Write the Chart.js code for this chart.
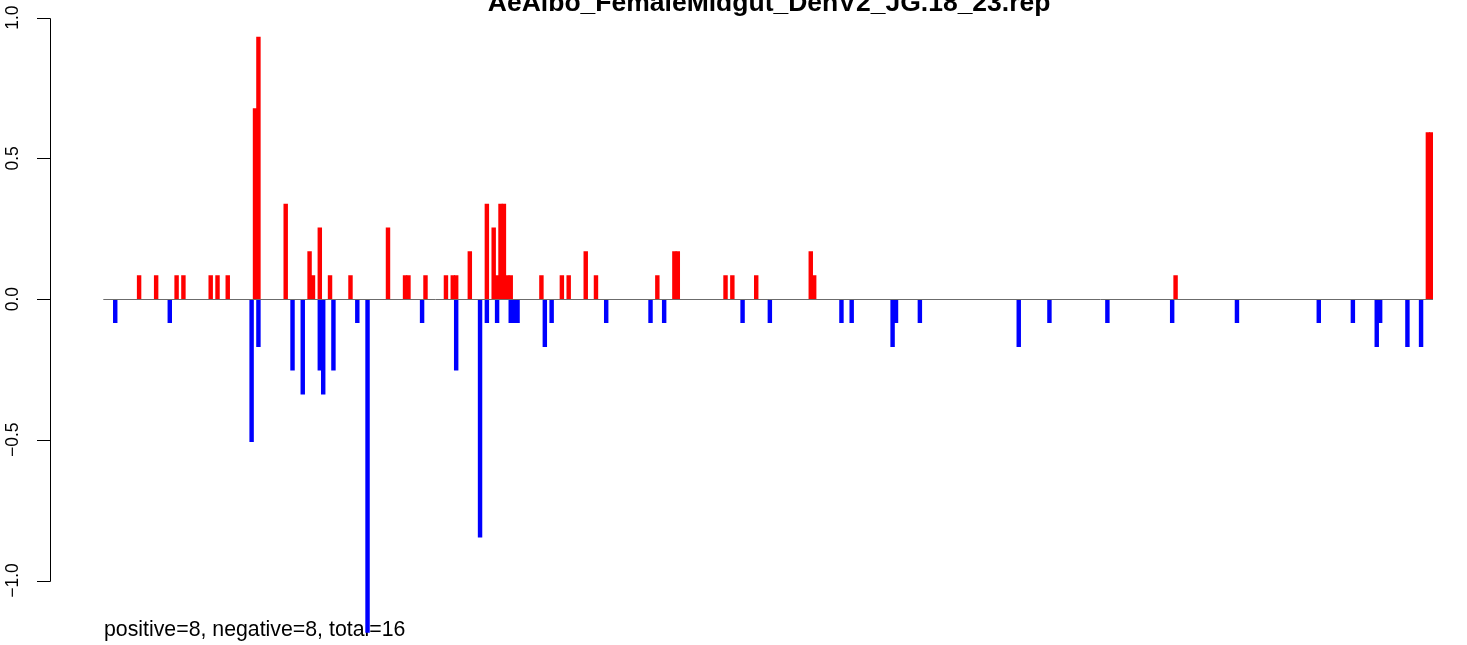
<!DOCTYPE html>
<html>
<head>
<meta charset="utf-8">
<title>AeAlbo_FemaleMidgut_DenV2_JG.18_23.rep</title>
<script src="https://cdn.jsdelivr.net/npm/chart.js@4/dist/chart.umd.min.js"></script>
<style>
	html, body { margin: 0; padding: 0; background: #ffffff; }
	#repChart { display: block; }
</style>
</head>
<body>
<canvas id="repChart" width="1467" height="645"></canvas>
<script>
// number of positions along the x axis
const nSlots = 390;

// positive (red) bars: position and value
const posSlots  = [10, 15, 21, 23, 31, 33, 36, 44, 45, 53, 60, 61, 63, 66, 72, 83, 88, 89, 94, 100,
	102, 103, 107, 112, 114, 115, 116, 117, 118, 119, 128, 134, 136, 141, 144, 162, 167, 168, 182, 184,
	191, 207, 208, 314, 388, 389];
const posValues = [0.085, 0.085, 0.085, 0.085, 0.085, 0.085, 0.085, 0.678, 0.932, 0.339, 0.17, 0.085, 0.254, 0.085, 0.085, 0.254, 0.085, 0.085, 0.085, 0.085,
	0.085, 0.085, 0.17, 0.339, 0.254, 0.085, 0.339, 0.339, 0.085, 0.085, 0.085, 0.085, 0.085, 0.17, 0.085, 0.085, 0.17, 0.17, 0.085, 0.085,
	0.085, 0.17, 0.085, 0.085, 0.593, 0.593];

// negative (blue) bars: position and value
const negSlots  = [3, 19, 43, 45, 55, 58, 63, 64, 67, 74, 77, 93, 103, 110, 112, 115, 119, 120, 121, 129,
	131, 147, 160, 164, 187, 195, 216, 219, 231, 232, 239, 268, 277, 294, 313, 332, 356, 366, 373, 374,
	382, 386];
const negValues = [-0.085, -0.085, -0.508, -0.17, -0.254, -0.339, -0.254, -0.339, -0.254, -0.085, -1.186, -0.085, -0.254, -0.847, -0.085, -0.085, -0.085, -0.085, -0.085, -0.17,
	-0.085, -0.085, -0.085, -0.085, -0.085, -0.085, -0.085, -0.085, -0.17, -0.085, -0.085, -0.17, -0.085, -0.085, -0.085, -0.085, -0.085, -0.085, -0.17, -0.085,
	-0.17, -0.17];

// y axis ticks
const yTicks = [-1, -0.5, 0, 0.5, 1];
const yTickLabels = ['\u22121.0', '\u22120.5', '0.0', '0.5', '1.0'];

const chartTitle = 'AeAlbo_FemaleMidgut_DenV2_JG.18_23.rep';
const footText = 'positive=8, negative=8, total=16';

const fontFamily = '"Liberation Sans", Arial, Helvetica, sans-serif';

// spread the sparse lists onto every position
function fillSlots(slots, values) {
	let data = new Array(nSlots).fill(null);
	for (let i = 0; i < slots.length; i++) {
		data[slots[i]] = values[i];
	}
	return data;
}

// R style axis, zero line and texts
const rStyle = {
	id: 'rStyle',
	beforeDatasetsDraw(chart) {
		const c = chart.ctx;
		c.save();
		c.fillStyle = '#000000';
		c.font = '21.3px ' + fontFamily;
		c.textAlign = 'left';
		c.textBaseline = 'alphabetic';
		c.fillText(footText, 104, 636);
		c.restore();
	},
	afterDatasetsDraw(chart) {
		const c = chart.ctx;
		const area = chart.chartArea;
		const y = chart.scales.y;

		c.save();
		// zero line
		const y0 = Math.round(y.getPixelForValue(0)) + 0.5;
		c.strokeStyle = '#6b6b6b';
		c.lineWidth = 1;
		c.beginPath();
		c.moveTo(area.left, y0);
		c.lineTo(area.right, y0);
		c.stroke();

		// left axis
		const axisX = 50.5;
		c.strokeStyle = '#000000';
		c.beginPath();
		c.moveTo(axisX, Math.round(y.getPixelForValue(yTicks[yTicks.length - 1])) + 0.5);
		c.lineTo(axisX, Math.round(y.getPixelForValue(yTicks[0])) + 0.5);
		yTicks.forEach(function(v) {
			const py = Math.round(y.getPixelForValue(v)) + 0.5;
			c.moveTo(axisX, py);
			c.lineTo(37, py);
		});
		c.stroke();

		c.fillStyle = '#000000';
		c.font = '17.5px ' + fontFamily;
		c.textAlign = 'center';
		c.textBaseline = 'alphabetic';
		yTicks.forEach(function(v, i) {
			c.save();
			c.translate(18, y.getPixelForValue(v));
			c.rotate(-Math.PI / 2);
			c.fillText(yTickLabels[i], 0, 0);
			c.restore();
		});

		// title, cut at the top like the original
		c.font = 'bold 26.5px ' + fontFamily;
		c.textAlign = 'center';
		c.fillText(chartTitle, (area.left + area.right) / 2 + 1, 11);
		c.restore();
	}
};

const ctx = document.getElementById('repChart').getContext('2d');

const chart = new Chart(ctx, {
	type: 'bar',
	data: {
		labels: Array.from({length: nSlots}, (_, i) => String(i + 1)),
		datasets: [{
			label: 'positive',
			data: fillSlots(posSlots, posValues),
			backgroundColor: '#ff0000',
			borderWidth: 0
		}, {
			label: 'negative',
			data: fillSlots(negSlots, negValues),
			backgroundColor: '#0000ff',
			borderWidth: 0
		}]
	},
	options: {
		responsive: false,
		animation: false,
		devicePixelRatio: 1,
		grouped: false,
		barPercentage: 1.3,
		categoryPercentage: 1,
		layout: {
			padding: { left: 103.3, right: 34, top: 12, bottom: 8.2 }
		},
		plugins: {
			legend: { display: false },
			tooltip: { enabled: false },
			title: { display: false }
		},
		scales: {
			x: {
				display: false,
				grid: { display: false }
			},
			y: {
				display: false,
				min: -1.2,
				max: 1.02,
				grid: { display: false }
			}
		}
	},
	plugins: [rStyle]
});
</script>
</body>
</html>
